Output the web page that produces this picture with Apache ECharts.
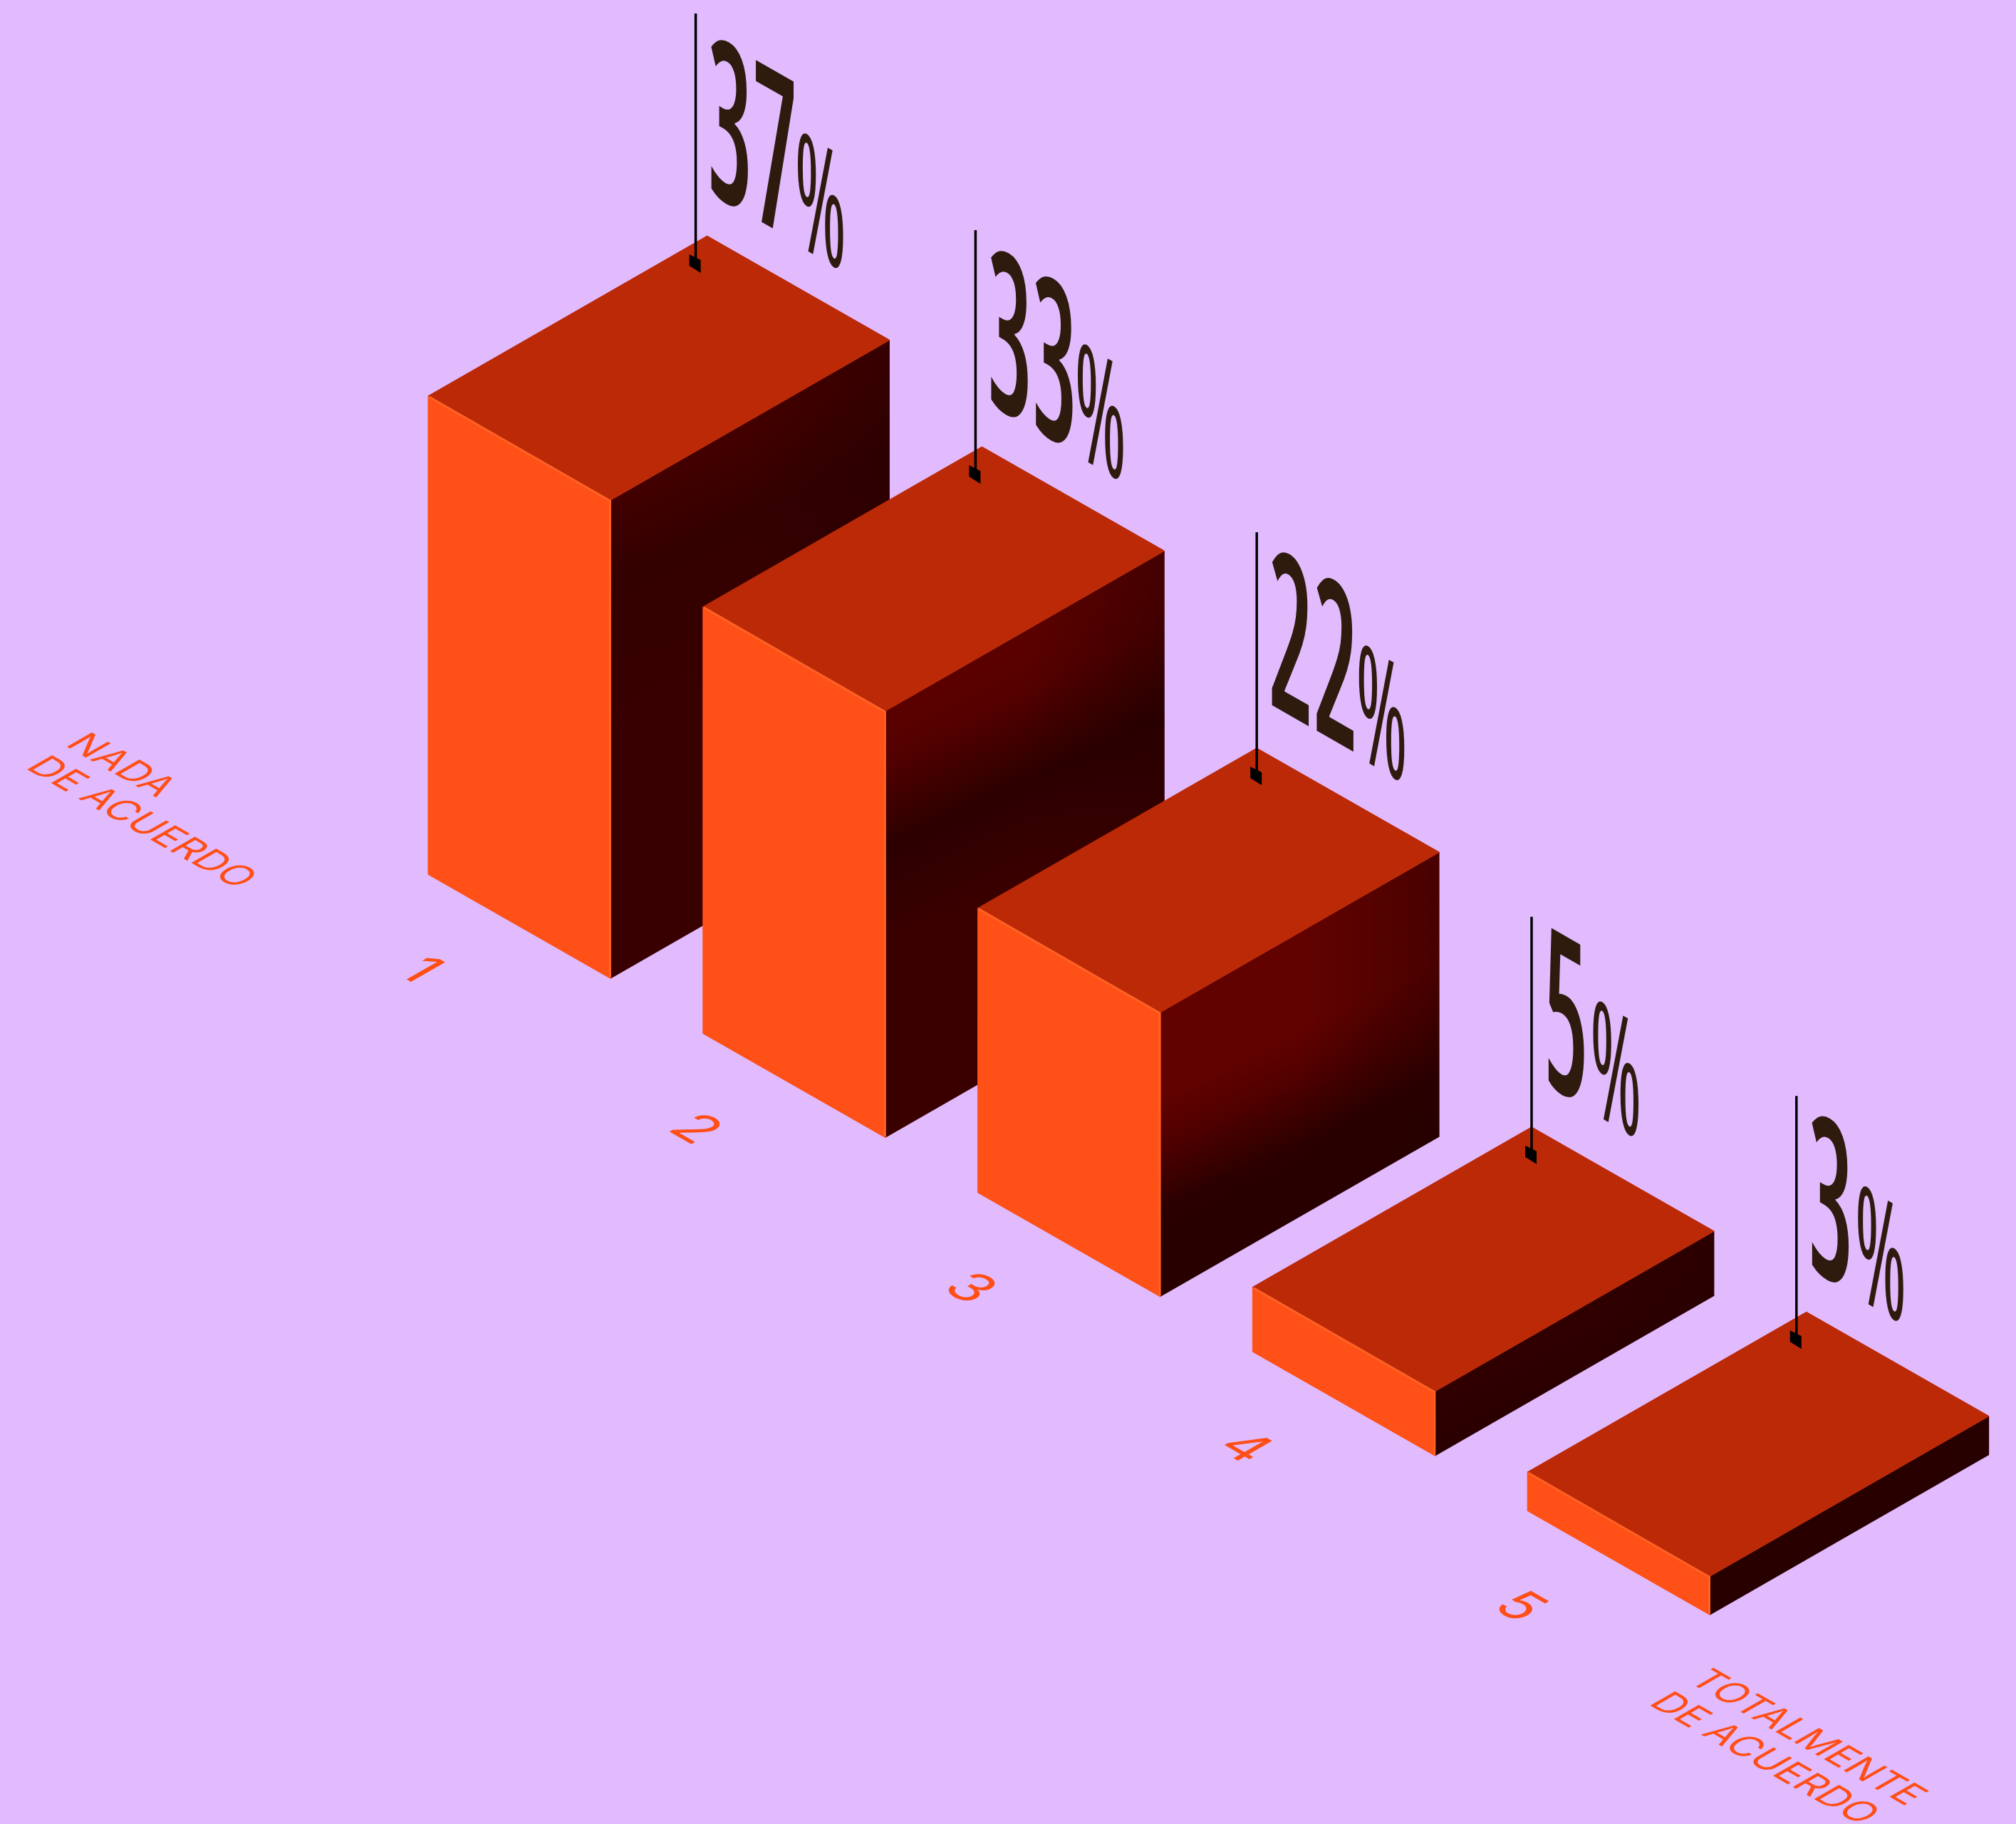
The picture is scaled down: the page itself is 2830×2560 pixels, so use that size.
<!DOCTYPE html>
<html>
<head>
<meta charset="utf-8">
<style>html,body{margin:0;padding:0;background:#E1BBFE}#chart{width:2830px;height:2560px}</style>
<script src="https://cdn.jsdelivr.net/npm/echarts@6/dist/echarts.min.js"></script>
</head>
<body>
<div id="chart"></div>
<script>
// Survey answers on a 1-to-5 agreement scale, drawn as isometric blocks.
const categories = ['1', '2', '3', '4', '5'];
const shares = [37, 33, 22, 5, 3];
const scaleEnds = [
  { lines: 'NADA\nDE ACUERDO', at: [-1.215, 11.34] },
  { lines: 'TOTALMENTE\nDE ACUERDO', at: [4.69, -61.05] }
];

const W = 2830, H = 2560;
// Axis windows: x counts rows, y counts percentage points.
const PX_PER_ROW = 385.8, PX_PER_POINT = 18.15;
const ORIGIN_X = 601, ORIGIN_Y = 1227.3;
const ROW_DROP = 223.3 / PX_PER_POINT;          // a row further on sits lower on the floor
const FRONT = [256.3 / PX_PER_ROW, -146.2 / PX_PER_POINT];
const SIDE = [391.6 / PX_PER_ROW, 224.7 / PX_PER_POINT];

const COLORS = {
  ground: '#E1BBFE', front: '#FF5017', frontEdge: '#FF6226', top: '#BC2906',
  ink: '#2E1B0E', pin: '#000000', tick: '#FF4F17'
};
// Shading of each block's shaded side: stops along a slanted light falloff.
const sideShade = [
  { len: 300, stops: [[0, '#420000'], [0.35, '#330000'], [1, '#380000']] },
  { len: 300, stops: [[0, '#5A0100'], [0.2, '#540000'], [0.58, '#2C0000'], [1, '#3A0000']] },
  { len: 400, stops: [[0, '#620200'], [0.26, '#620200'], [0.42, '#500000'], [0.64, '#2A0000'], [1, '#270000']] },
  { len: 120, stops: [[0, '#300000'], [1, '#280000']] },
  { len: 80, stops: [[0, '#290000'], [1, '#260000']] }
];
const pinShift = [-16, -9, 0, 0, -14];
const pinRise = [312, 304, 303, 295, 303];

// Any 2x2 text transform, expressed as rotation / scale / rotation groups.
function affineText(x, y, a, b, c, d, text) {
  const E = (a + d) / 2, F = (a - d) / 2, G = (b + c) / 2, Q = (b - c) / 2;
  const q = Math.hypot(E, Q), r = Math.hypot(F, G);
  const a1 = Math.atan2(G, F), a2 = Math.atan2(Q, E);
  const inner = (a2 - a1) / 2, outer = (a2 + a1) / 2;
  return {
    type: 'group', x, y, rotation: -outer, scaleX: q + r, scaleY: q - r,
    children: [{ type: 'text', rotation: -inner, style: text }]
  };
}
const SLOPE_F = 146.2 / 256.3, SLOPE_S = 224.7 / 391.6;
const wallText = (x, y, k, text) => affineText(x, y, k, k * SLOPE_F, 0, 1, text);
const floorText = (x, y, gx, gy, text) => affineText(x, y, gx, gx * SLOPE_F, -gy, gy * SLOPE_S, text);

const DIGIT_FONT = 'extra-condensed 650 312px "Open Sans", "Liberation Sans", sans-serif';
const PCT_FONT = 'extra-condensed 500 226px "Open Sans", "Liberation Sans", sans-serif';
const FLOOR_FONT = 'Inter, "Noto Sans", sans-serif';

function renderBlock(params, api) {
  const i = api.value(0), v = api.value(1);
  const pt = (f, s, h) => api.coord([
    i + f * FRONT[0] + s * SIDE[0],
    h - ROW_DROP * i + f * FRONT[1] + s * SIDE[1]
  ]);
  // Corners: L = left, F = front, R = right, B = back.
  const Lt = pt(0, 0, v), Lb = pt(0, 0, 0);
  const Ft = pt(1, 0, v), Fb = pt(1, 0, 0);
  const Rt = pt(1, 1, v), Rb = pt(1, 1, 0);
  const Bt = pt(0, 1, v);

  const shade = sideShade[i];
  const dir = [0.43, 0.9];
  const poly = (points, style) => ({ type: 'polygon', shape: { points }, style });
  const kids = [];
  kids.push(poly([Ft, Rt, Rb, Fb], {
    fill: {
      type: 'linear', global: true,
      x: Ft[0], y: Ft[1], x2: Ft[0] + dir[0] * shade.len, y2: Ft[1] + dir[1] * shade.len,
      colorStops: shade.stops.map(s => ({ offset: s[0], color: s[1] }))
    }
  }));
  kids.push(poly([Ft, Rt, Rb, Fb], {
    fill: {
      type: 'linear', global: true, x: Ft[0], y: 0, x2: Rt[0], y2: 0,
      colorStops: [
        { offset: 0.5, color: 'rgba(36,0,0,0)' },
        { offset: 1, color: 'rgba(36,0,0,0.42)' }
      ]
    }
  }));
  kids.push(poly([Lt, Ft, Fb, Lb], { fill: COLORS.front, stroke: COLORS.front, lineWidth: 1 }));
  kids.push(poly([Lt, Bt, Rt, Ft], { fill: COLORS.top, stroke: COLORS.top, lineWidth: 1 }));
  kids.push({
    type: 'polyline', shape: { points: [[Lt[0] + 1, Lt[1] + 1], [Ft[0] - 1, Ft[1] + 1], [Fb[0] - 1, Fb[1] - 2]] },
    style: { fill: 'none', stroke: COLORS.frontEdge, lineWidth: 3 }
  });

  // Pin rising from the block's top, with the value written beside it.
  const px = Bt[0] + pinShift[i], py = Bt[1];
  kids.push({
    type: 'line', shape: { x1: px, y1: py - pinRise[i], x2: px, y2: py + 34 },
    style: { stroke: COLORS.pin, lineWidth: 3.5 }
  });
  kids.push(poly(
    [[px - 9, py + 26], [px + 7, py + 34], [px + 7, py + 52], [px - 9, py + 42]],
    { fill: COLORS.pin }
  ));

  const digits = String(v);
  const DIGIT_CAP = 205, PCT_CAP = 148;
  const tx = px + 17, ty = py - 49;
  kids.push(wallText(tx, ty, 0.45, {
    text: digits, x: 0, y: -DIGIT_CAP / 2, fill: COLORS.ink,
    font: DIGIT_FONT, align: 'left', verticalAlign: 'middle'
  }));
  const digitsW = 8 + digits.length * 57;
  kids.push(wallText(tx + digitsW, ty + digitsW * SLOPE_F, 0.49, {
    text: '%', x: 0, y: -PCT_CAP / 2, fill: COLORS.ink,
    font: PCT_FONT, align: 'left', verticalAlign: 'middle'
  }));

  // Scale number lying on the floor in front of the block.
  kids.push(floorText(Lb[0] - 12, Lb[1] + 135, 0.87, 0.87, {
    text: categories[i], x: 0, y: 0, fill: COLORS.tick,
    font: `400 76px ${FLOOR_FONT}`, align: 'center', verticalAlign: 'middle'
  }));
  return { type: 'group', children: kids };
}

function renderEnd(params, api) {
  const p = api.coord([api.value(0), api.value(1)]);
  return floorText(p[0], p[1], 0.84, 0.87, {
    text: scaleEnds[params.dataIndex].lines, x: 0, y: 0, fill: COLORS.tick,
    font: `400 55px ${FLOOR_FONT}`, lineHeight: 64, align: 'left', verticalAlign: 'top'
  });
}

const chart = echarts.init(document.getElementById('chart'), null, { renderer: 'canvas' });
chart.setOption({
  backgroundColor: COLORS.ground,
  animation: false,
  grid: { left: 0, right: 0, top: 0, bottom: 0 },
  xAxis: {
    type: 'value', show: false,
    min: -ORIGIN_X / PX_PER_ROW, max: (W - ORIGIN_X) / PX_PER_ROW
  },
  yAxis: {
    type: 'value', show: false,
    min: -(H - ORIGIN_Y) / PX_PER_POINT, max: ORIGIN_Y / PX_PER_POINT
  },
  series: [
    {
      type: 'custom', clip: false, silent: true, renderItem: renderBlock,
      encode: { x: 0, y: 1 },
      data: shares.map((v, i) => [i, v])
    },
    {
      type: 'custom', clip: false, silent: true, renderItem: renderEnd,
      encode: { x: 0, y: 1 },
      data: scaleEnds.map(e => e.at)
    }
  ]
});
</script>
</body>
</html>
